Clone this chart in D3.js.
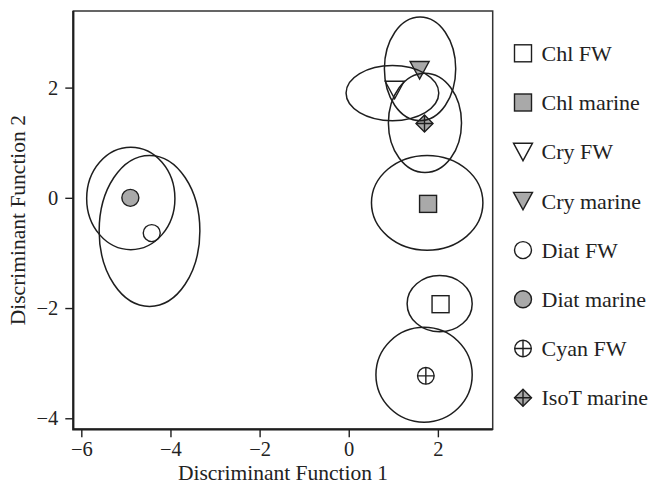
<!DOCTYPE html>
<html>
<head>
<meta charset="utf-8">
<script src="https://cdn.jsdelivr.net/npm/d3@7"></script>
<style>
html,body{margin:0;padding:0;background:#fff;}
svg text{font-family:"Liberation Serif","Times New Roman",serif;fill:#222;}
</style>
</head>
<body>
<svg id="chart" width="655" height="483"></svg>
<script>
// ---- data ----
const groups   = ["Chl FW","Chl marine","Cry FW","Cry marine","Diat FW","Diat marine","Cyan FW","IsoT marine"];
const shapes   = ["square","square","triangle","triangle","circle","circle","circleplus","diamondplus"];
const filled   = [false,true,false,true,false,true,false,true];
const pointX   = [2.06, 1.78, 1.03, 1.59, -4.42, -4.90, 1.73, 1.70];
const pointY   = [-1.93, -0.11, 1.96, 2.32, -0.64, 0.00, -3.23, 1.35];
const ellCX    = [2.04, 1.76, 0.98, 1.60, -4.47, -4.89, 1.69, 1.71];
const ellCY    = [-1.92, -0.09, 1.90, 2.34, -0.60, -0.01, -3.21, 1.36];
const ellRX    = [0.73, 1.25, 1.04, 0.80, 1.13, 0.99, 1.08, 0.82];
const ellRY    = [0.51, 0.86, 0.50, 0.94, 1.37, 0.93, 0.86, 0.90];
const xTicks   = [-6,-4,-2,0,2];
const yTicks   = [-4,-2,0,2];
const xDomain  = [-6.18, 3.23];
const yDomain  = [-4.2, 3.39];
const xTitle   = "Discriminant Function 1";
const yTitle   = "Discriminant Function 2";

// ---- layout ----
const L = 73.3, R = 492.7, T = 11, B = 429.3;
const svg = d3.select("#chart");
const x = d3.scaleLinear().domain(xDomain).range([L, R]);
const y = d3.scaleLinear().domain(yDomain).range([B, T]);
const ink = "#1e1e1e", grey = "#a9a9a9";
const fontSize = 22, titleFont = 21.5, tickFont = 20.5;

// axes
const gx = svg.append("g").attr("transform", `translate(0,${B})`)
  .call(d3.axisBottom(x).tickValues(xTicks).tickSize(8).tickSizeOuter(0).tickPadding(4));
const gy = svg.append("g").attr("transform", `translate(${L},0)`)
  .call(d3.axisLeft(y).tickValues(yTicks).tickSize(8).tickSizeOuter(0).tickPadding(7));
[gx, gy].forEach(g => {
  g.select(".domain").remove();
  g.selectAll(".tick line").attr("stroke", ink).attr("stroke-width", 1.4);
  g.selectAll(".tick text").attr("font-size", tickFont)
    .attr("font-family", '"Liberation Serif",serif').attr("fill", ink);
});

// box
svg.append("rect").attr("x", L).attr("y", T).attr("width", R - L).attr("height", B - T)
  .attr("fill", "none").attr("stroke", "#333").attr("stroke-width", 1.5);
svg.append("path").attr("d", `M${L},${T}V${B}H${R}`).attr("fill", "none")
  .attr("stroke", ink).attr("stroke-width", 2.2);

// titles
svg.append("text").attr("x", (L + R) / 2).attr("y", 479.5).attr("text-anchor", "middle")
  .attr("font-size", titleFont).text(xTitle);
svg.append("text").attr("transform", `translate(25,${(T + B) / 2}) rotate(-90)`)
  .attr("text-anchor", "middle").attr("font-size", titleFont).text(yTitle);

// marker drawing
function marker(g, shape, fill) {
  const f = fill ? grey : "#fff";
  const sw = 1.4;
  if (shape === "square") {
    g.append("rect").attr("x", -8.5).attr("y", -8.5).attr("width", 17).attr("height", 17)
      .attr("fill", f).attr("stroke", ink).attr("stroke-width", sw);
  } else if (shape === "triangle") {
    g.append("path").attr("d", "M-9.5,-8.5L9.5,-8.5L0,9Z")
      .attr("fill", f).attr("stroke", ink).attr("stroke-width", sw);
  } else if (shape === "circle") {
    g.append("circle").attr("r", 8.5).attr("fill", f).attr("stroke", ink).attr("stroke-width", sw);
  } else if (shape === "circleplus") {
    g.append("circle").attr("r", 8.3).attr("fill", f).attr("stroke", ink).attr("stroke-width", sw);
    g.append("path").attr("d", "M-8.3,0H8.3M0,-8.3V8.3").attr("stroke", ink).attr("stroke-width", sw);
  } else if (shape === "diamondplus") {
    g.append("path").attr("d", "M0,-8.5L8.5,0L0,8.5L-8.5,0Z")
      .attr("fill", f).attr("stroke", ink).attr("stroke-width", sw);
    g.append("path").attr("d", "M-8.5,0H8.5M0,-8.5V8.5").attr("stroke", ink).attr("stroke-width", sw);
  }
}

// points
groups.forEach((gname, i) => {
  const g = svg.append("g").attr("transform", `translate(${x(pointX[i])},${y(pointY[i])})`);
  marker(g, shapes[i], filled[i]);
});

// ellipses
groups.forEach((gname, i) => {
  svg.append("ellipse")
    .attr("cx", x(ellCX[i])).attr("cy", y(ellCY[i]))
    .attr("rx", x(ellCX[i] + ellRX[i]) - x(ellCX[i]))
    .attr("ry", y(ellCY[i]) - y(ellCY[i] + ellRY[i]))
    .attr("fill", "none").attr("stroke", ink).attr("stroke-width", 1.5);
});

// legend
const legX = 523, legY0 = 53.3, legDY = 49.2;
groups.forEach((gname, i) => {
  const g = svg.append("g").attr("transform", `translate(${legX},${legY0 + i * legDY})`);
  marker(g, shapes[i], filled[i]);
  svg.append("text").attr("x", 541.5).attr("y", legY0 + i * legDY).attr("dy", "0.35em")
    .attr("font-size", fontSize).attr("fill", ink).text(gname);
});
</script>
</body>
</html>
